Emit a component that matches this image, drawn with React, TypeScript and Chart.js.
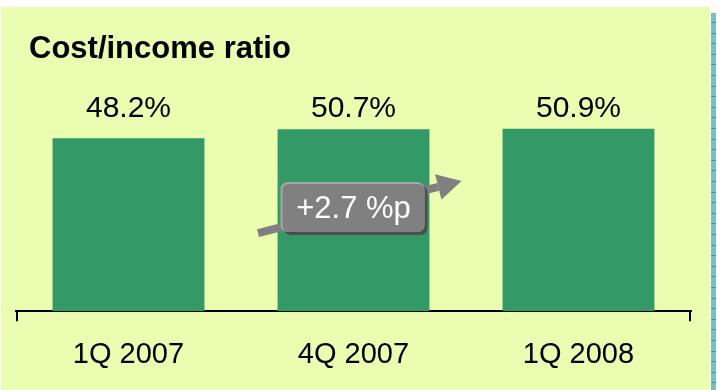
import React, { useEffect, useRef } from "react";
import { Chart, registerables } from "chart.js";

Chart.register(...registerables);

const categories = ["1Q 2007", "4Q 2007", "1Q 2008"];
const ratioValues = [48.2, 50.7, 50.9];
const valueLabels = ["48.2%", "50.7%", "50.9%"];
const chartTitle = "Cost/income ratio";
const changeLabel = "+2.7 %p";
// arrow annotation: from (category position, value) to (category position, value)
const arrowFrom = [0.576, 21.8];
const arrowTo = [1.48, 36.3];

const FONT = "'Liberation Sans', Arial, sans-serif";

const decorPlugin = {
  id: "decor",
  beforeDraw(chart: any) {
    const { ctx, width, height } = chart;
    ctx.save();
    ctx.fillStyle = "#ffffff";
    ctx.fillRect(0, 0, width, height);
    // panel
    ctx.fillStyle = "#EAFDB0";
    ctx.fillRect(1, 7, 709, height - 7);
    // teal strip
    ctx.fillStyle = "#7CC0BE";
    ctx.fillRect(711, 13, 5, height - 13);
    ctx.fillStyle = "#3A9A98";
    for (let y = 22; y < height; y += 10.6) {
      ctx.fillRect(711, Math.round(y), 5, 1);
    }
    ctx.restore();
  },
  afterDatasetsDraw(chart: any) {
    const { ctx, chartArea } = chart;
    const xs = chart.scales.x;
    const ys = chart.scales.y;
    ctx.save();
    // title
    ctx.fillStyle = "#000";
    ctx.font = `bold 31px ${FONT}`;
    ctx.textBaseline = "alphabetic";
    ctx.textAlign = "left";
    ctx.fillText(chartTitle, 29, 58);
    // value labels
    ctx.font = `30px ${FONT}`;
    ctx.textAlign = "center";
    const meta = chart.getDatasetMeta(0);
    meta.data.forEach((bar: any, i: number) => {
      ctx.fillText(valueLabels[i], bar.x, chartArea.top + 21);
    });
    // end ticks on x axis
    ctx.strokeStyle = "#000";
    ctx.lineWidth = 2;
    ctx.beginPath();
    ctx.moveTo(xs.left + 1, chartArea.bottom);
    ctx.lineTo(xs.left + 1, chartArea.bottom + 10);
    ctx.moveTo(xs.right - 1, chartArea.bottom);
    ctx.lineTo(xs.right - 1, chartArea.bottom + 10);
    ctx.stroke();
    // arrow
    const pos = (v: number) => {
      const p0 = xs.getPixelForValue(Math.floor(v));
      const p1 = xs.getPixelForValue(Math.floor(v) + 1);
      return p0 + (p1 - p0) * (v - Math.floor(v));
    };
    const x1 = pos(arrowFrom[0]);
    const y1 = ys.getPixelForValue(arrowFrom[1]);
    const x2 = pos(arrowTo[0]);
    const y2 = ys.getPixelForValue(arrowTo[1]);
    const ang = Math.atan2(y2 - y1, x2 - x1);
    const headLen = 24;
    const headW = 13;
    const bx = x2 - headLen * Math.cos(ang);
    const by = y2 - headLen * Math.sin(ang);
    ctx.strokeStyle = "#808080";
    ctx.lineWidth = 8;
    ctx.lineCap = "butt";
    ctx.beginPath();
    ctx.moveTo(x1, y1);
    ctx.lineTo(bx, by);
    ctx.stroke();
    ctx.fillStyle = "#808080";
    ctx.beginPath();
    ctx.moveTo(x2, y2);
    ctx.lineTo(bx + headW * Math.sin(ang), by - headW * Math.cos(ang));
    ctx.lineTo(bx - headW * Math.sin(ang), by + headW * Math.cos(ang));
    ctx.closePath();
    ctx.fill();
    // label box centered on the middle bar
    const cx = xs.getPixelForValue(1) - 1;
    const cy = (y1 + y2) / 2;
    const bw = 144;
    const bh = 50;
    const rx = cx - bw / 2;
    const ry = cy - bh / 2;
    const rr = (x: number, y: number, w: number, h: number, r: number) => {
      ctx.beginPath();
      ctx.moveTo(x + r, y);
      ctx.lineTo(x + w - r, y);
      ctx.quadraticCurveTo(x + w, y, x + w, y + r);
      ctx.lineTo(x + w, y + h - r);
      ctx.quadraticCurveTo(x + w, y + h, x + w - r, y + h);
      ctx.lineTo(x + r, y + h);
      ctx.quadraticCurveTo(x, y + h, x, y + h - r);
      ctx.lineTo(x, y + r);
      ctx.quadraticCurveTo(x, y, x + r, y);
      ctx.closePath();
    };
    ctx.fillStyle = "#4d4d4d";
    rr(rx + 3, ry + 3, bw, bh, 8);
    ctx.fill();
    ctx.fillStyle = "#a6a6a6";
    rr(rx, ry, bw, bh, 8);
    ctx.fill();
    ctx.fillStyle = "#808080";
    rr(rx + 2, ry + 2, bw - 2, bh - 2, 7);
    ctx.fill();
    ctx.fillStyle = "#ffffff";
    ctx.font = `31px ${FONT}`;
    ctx.textAlign = "center";
    ctx.textBaseline = "alphabetic";
    ctx.fillText(changeLabel, cx + 1, cy + 11);
    ctx.restore();
  },
};

export default function App() {
  const ref = useRef<HTMLCanvasElement | null>(null);
  useEffect(() => {
    document.body.style.margin = "0";
    if (!ref.current) return;
    const chart = new Chart(ref.current, {
      type: "bar",
      data: {
        labels: categories,
        datasets: [
          {
            data: ratioValues,
            backgroundColor: "#339966",
            borderWidth: 0,
            categoryPercentage: 0.675,
            barPercentage: 1,
          },
        ],
      },
      options: {
        animation: false,
        responsive: false,
        maintainAspectRatio: false,
        layout: { padding: { left: 16, right: 29, top: 96, bottom: -8 } },
        plugins: {
          legend: { display: false },
          title: { display: false },
          tooltip: { enabled: false },
        },
        scales: {
          x: {
            grid: { display: false, drawTicks: false },
            border: { display: true, color: "#000", width: 2 },
            ticks: {
              color: "#000",
              padding: 26,
              font: { family: FONT, size: 29 },
            },
          },
          y: {
            display: false,
            min: 0,
            max: 60,
          },
        },
      },
      plugins: [decorPlugin],
    });
    return () => chart.destroy();
  }, []);
  return (
    <div style={{ position: "fixed", left: 0, top: 0, width: 720, height: 390 }}>
      <canvas ref={ref} width={720} height={390} style={{ width: 720, height: 390 }} />
    </div>
  );
}
